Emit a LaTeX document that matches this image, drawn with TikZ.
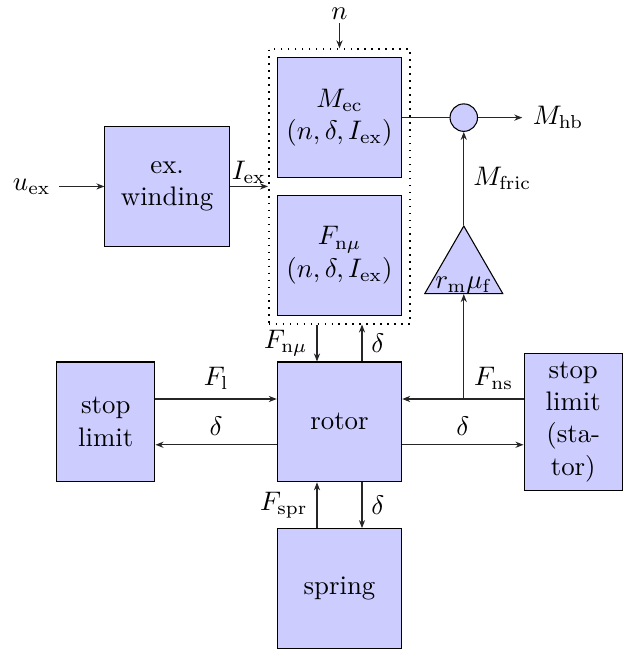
\documentclass[tikz,border=0pt]{standalone}
\usepackage{amsmath}
\usepackage{tikz}
\usetikzlibrary{arrows.meta, positioning, fit, shapes.geometric}

\begin{document}
\begin{tikzpicture}[
  node distance=6mm,
  blk/.style={draw, fill=blue!20, align=center, minimum width=16.3mm,
              minimum height=15.7mm},
  stopblk/.style={blk, minimum width=0pt, text width=30pt},
  sumpt/.style={circle, draw, fill=blue!20, minimum size=3.6mm, inner sep=0pt},
  gain/.style={regular polygon, regular polygon sides=3, draw, fill=blue!20,
               minimum size=11.8mm, inner sep=0pt},
  sig/.style={-{Stealth[length=3pt, width=2.3pt]}, draw=black!85},
]
\useasboundingbox (-44.5mm,-29.9mm) rectangle (39.0mm,55.3mm);

% rotor in the middle
\node[blk] (rotor) at (0,0) {rotor};
\node[blk, above=6mm of rotor] (fnmu) {$F_\mathrm{n\mu}$\\ $(n,\delta,I_\mathrm{ex})$};
\node[blk, above=2.2mm of fnmu] (mec) {$M_\mathrm{ec}$\\ $(n,\delta,I_\mathrm{ex})$};
\node[draw, dotted, semithick, inner sep=1.05mm, fit=(mec)(fnmu)] (frame) {};
\node[blk, below=6mm of rotor] (spring) {spring};
\node[stopblk, left=15.9mm of rotor] (stopl) {stop\\ limit};
\node[stopblk, right=15.9mm of rotor] (stator) {stop limit (sta\-tor)};
\node[blk, left=5mm of frame] (exw) {ex.\\ winding};

% torque sum
\node[sumpt, right=6.2mm of mec] (circ) {};
\node[gain, anchor=corner 1] (fric) at ([yshift=-12.2mm]circ.south) {};
\node[anchor=south, inner sep=0pt] (fricl) at (fric.side 2) {$r_\mathrm{m}\mu_\mathrm{f}$};

% free ends
\coordinate[above=3.3mm of frame.north] (nin);
\node[above=0pt of nin, inner sep=1pt] (nl) {$n$};
\coordinate[left=5.9mm of exw.west] (uin);
\node[left=0pt of uin, inner sep=1.1mm] (ul) {$u_\mathrm{ex}$};
\coordinate[right=5.8mm of circ.east] (mout);
\node[right=0pt of mout, inner sep=1.3mm] (ml) {$M_\mathrm{hb}$};

\coordinate (rn1) at ([xshift=-2.95mm]rotor.north);
\coordinate (rn2) at ([xshift=2.95mm]rotor.north);
\coordinate (rs1) at ([xshift=-2.95mm]rotor.south);
\coordinate (rs2) at ([xshift=2.95mm]rotor.south);
\coordinate (sw1) at ([yshift=3mm]stator.west);
\coordinate (branch) at (circ |- sw1);

\draw[sig] (nin) -- (frame.north);
\draw[sig] (uin) -- (exw);
\draw[sig] (exw.east) -- node[above, inner sep=1pt] {$I_\mathrm{ex}$} (exw.east -| frame.west);
\draw[sig] (mec) -- (circ) -- (mout);
\draw[sig] (fric.corner 1) -- node[right] {$M_\mathrm{fric}$} (circ);

\draw[sig] (rn1 |- frame.south) -- node[left] {$F_\mathrm{n\mu}$} (rn1);
\draw[sig] (rn2) -- node[right] {$\delta$} (rn2 |- frame.south);
\draw[sig] (rs1 |- spring.north) -- node[left] {$F_\mathrm{spr}$} (rs1);
\draw[sig] (rs2) -- node[right] {$\delta$} (rs2 |- spring.north);

\draw[sig] ([yshift=3mm]stopl.east) -- node[above] {$F_\mathrm{l}$} ([yshift=3mm]rotor.west);
\draw[sig] ([yshift=-3mm]rotor.west) -- node[above] {$\delta$} ([yshift=-3mm]stopl.east);
\draw[sig] (sw1) -- node[above] {$F_\mathrm{ns}$} (branch) -- ([yshift=3mm]rotor.east);
\draw[sig] ([yshift=-3mm]rotor.east) -- node[above] {$\delta$} ([yshift=-3mm]stator.west);
\draw[sig] (branch) -- (fric.side 2);
\end{tikzpicture}
\end{document}
